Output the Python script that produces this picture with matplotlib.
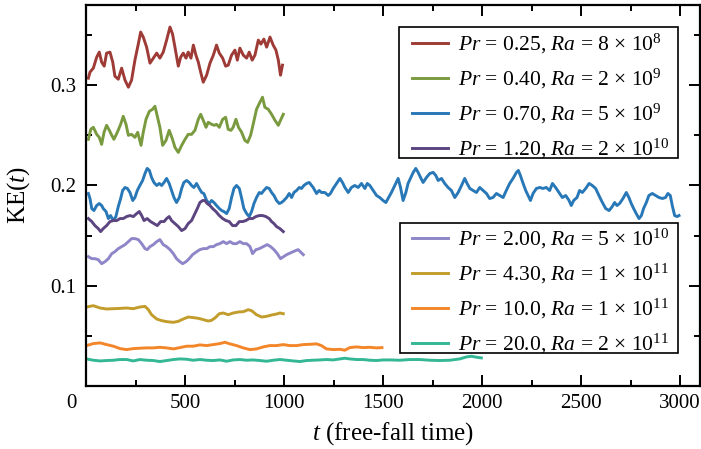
import matplotlib
matplotlib.use("Agg")
import matplotlib.pyplot as plt
from matplotlib.ticker import MultipleLocator
from matplotlib.transforms import ScaledTranslation
from matplotlib.patches import Rectangle

plt.rcParams['font.family'] = ['Liberation Serif', 'DejaVu Serif']
plt.rcParams['mathtext.fontset'] = 'custom'
plt.rcParams['mathtext.rm'] = 'Liberation Serif'
plt.rcParams['mathtext.it'] = 'Liberation Serif:italic'
plt.rcParams['mathtext.bf'] = 'Liberation Serif:bold'

labels = [r'$Pr$ = 0.25, $Ra$ = 8 × $10^{8}$',
          r'$Pr$ = 0.40, $Ra$ = 2 × $10^{9}$',
          r'$Pr$ = 0.70, $Ra$ = 5 × $10^{9}$',
          r'$Pr$ = 1.20, $Ra$ = 2 × $10^{10}$',
          r'$Pr$ = 2.00, $Ra$ = 5 × $10^{10}$',
          r'$Pr$ = 4.30, $Ra$ = 1 × $10^{11}$',
          r'$Pr$ = 10.0, $Ra$ = 1 × $10^{11}$',
          r'$Pr$ = 20.0, $Ra$ = 2 × $10^{11}$']
colors = ['#9e3b36', '#7a9a3f', '#2878b8', '#5c4580',
          '#8e86c8', '#c29d2b', '#f4862a', '#33b795']

t_pr025 = [12, 20, 37, 54, 67, 79, 92, 104, 121, 135, 146, 163, 180, 197, 214, 230, 247, 264, 276, 289,
           306, 323, 340, 357, 373, 390, 407, 424, 437, 449, 466, 478, 491, 505, 516, 530, 542, 555, 567, 579,
           592, 609, 626, 643, 659, 673, 690, 705, 718, 735, 752, 764, 777, 794, 811, 824, 839, 853, 870, 883,
           898, 912, 929, 945, 959, 971, 982, 992]
ke_pr025 = [0.307, 0.313, 0.317, 0.328, 0.333, 0.323, 0.319, 0.332, 0.333, 0.323,
            0.309, 0.306, 0.317, 0.305, 0.298, 0.305, 0.325, 0.341, 0.353, 0.348,
            0.338, 0.322, 0.327, 0.332, 0.327, 0.333, 0.345, 0.358, 0.351, 0.338,
            0.319, 0.328, 0.332, 0.327, 0.333, 0.327, 0.340, 0.330, 0.323, 0.313,
            0.303, 0.310, 0.322, 0.330, 0.340, 0.332, 0.327, 0.319, 0.320, 0.330,
            0.335, 0.325, 0.337, 0.330, 0.327, 0.333, 0.325, 0.330, 0.345, 0.341,
            0.346, 0.338, 0.348, 0.340, 0.335, 0.325, 0.310, 0.320]

t_pr040 = [12, 24, 37, 54, 67, 79, 91, 104, 118, 130, 141, 158, 175, 188, 202, 214, 230, 247, 261, 278,
           289, 303, 320, 336, 348, 360, 373, 387, 404, 420, 437, 449, 466, 483, 500, 516, 533, 550, 567, 579,
           592, 606, 617, 634, 648, 659, 673, 690, 705, 718, 732, 743, 757, 770, 786, 802, 816, 831, 844, 861,
           878, 891, 903, 920, 937, 954, 971, 982, 996]
ke_pr040 = [0.246, 0.256, 0.258, 0.251, 0.248, 0.241, 0.253, 0.260, 0.255, 0.250,
            0.246, 0.253, 0.261, 0.269, 0.261, 0.250, 0.251, 0.248, 0.253, 0.240,
            0.253, 0.266, 0.274, 0.276, 0.279, 0.269, 0.258, 0.240, 0.245, 0.255,
            0.246, 0.238, 0.233, 0.240, 0.246, 0.251, 0.251, 0.255, 0.266, 0.271,
            0.265, 0.258, 0.263, 0.261, 0.260, 0.261, 0.258, 0.266, 0.268, 0.256,
            0.255, 0.258, 0.266, 0.258, 0.253, 0.245, 0.243, 0.250, 0.261, 0.276,
            0.283, 0.288, 0.278, 0.276, 0.271, 0.265, 0.260, 0.265, 0.271]

t_pr070 = [12, 20, 29, 40, 54, 67, 79, 87, 101, 113, 124, 138, 151, 163, 175, 185, 197, 209, 222, 236,
           247, 259, 272, 286, 298, 309, 320, 331, 343, 357, 370, 382, 394, 407, 420, 432, 444, 457, 471, 483,
           494, 508, 521, 533, 545, 558, 572, 584, 595, 609, 622, 634, 646, 659, 673, 685, 696, 710, 723, 735,
           747, 760, 774, 786, 797, 811, 824, 836, 848, 861, 875, 886, 898, 912, 925, 937, 949, 962, 976, 987,
           999, 1013, 1026, 1038, 1050, 1063, 1077, 1088, 1100, 1114, 1127,
           1147, 1164, 1177, 1189, 1206, 1223, 1234, 1248, 1265, 1282, 1295, 1307, 1324, 1340, 1357, 1374, 1391,
           1408, 1420, 1433, 1450, 1467, 1483, 1500, 1514, 1525, 1542, 1559, 1576, 1588, 1601, 1615, 1626, 1640,
           1652, 1665, 1677, 1689, 1702, 1719, 1736, 1753, 1766, 1778, 1795, 1811, 1828, 1845, 1862, 1879, 1896,
           1912, 1924, 1938, 1954, 1971, 1988, 2005, 2022, 2038, 2055, 2072,
           2089, 2106, 2122, 2139, 2156, 2173, 2183, 2193, 2207, 2220, 2232, 2244, 2257, 2274, 2291, 2307, 2324,
           2341, 2355, 2371, 2388, 2405, 2422, 2439, 2450, 2462, 2479, 2492, 2506, 2523, 2540, 2556, 2573, 2585,
           2597, 2610, 2624, 2641, 2657, 2669, 2681, 2694, 2711, 2728, 2741, 2753, 2765, 2778, 2792, 2804, 2815,
           2829, 2842, 2859, 2876, 2893, 2910, 2926, 2938, 2950, 2960, 2972, 2984, 2994]
ke_pr070 = [0.192, 0.187, 0.177, 0.175, 0.180, 0.182, 0.180, 0.177, 0.174, 0.167,
            0.170, 0.165, 0.169, 0.179, 0.187, 0.195, 0.198, 0.197, 0.193, 0.185,
            0.188, 0.195, 0.200, 0.205, 0.212, 0.217, 0.215, 0.208, 0.203, 0.200,
            0.202, 0.200, 0.203, 0.207, 0.202, 0.195, 0.188, 0.183, 0.188, 0.197,
            0.203, 0.205, 0.203, 0.200, 0.198, 0.202, 0.197, 0.193, 0.192, 0.185,
            0.182, 0.185, 0.183, 0.180, 0.177, 0.175, 0.174, 0.172, 0.177, 0.188,
            0.197, 0.200, 0.197, 0.187, 0.177, 0.172, 0.169, 0.174, 0.182, 0.188,
            0.193, 0.192, 0.195, 0.198, 0.197, 0.193, 0.190, 0.185, 0.182, 0.183,
            0.185, 0.188, 0.192, 0.188, 0.193, 0.195, 0.198, 0.197, 0.200, 0.202,
            0.203,
            0.198, 0.192, 0.195, 0.193, 0.193, 0.190, 0.192, 0.197, 0.202,
            0.207, 0.203, 0.198, 0.193, 0.198, 0.200, 0.198, 0.202, 0.197, 0.202,
            0.200, 0.195, 0.190, 0.188, 0.185, 0.183, 0.187, 0.193, 0.200, 0.207,
            0.198, 0.185, 0.193, 0.202, 0.208, 0.213, 0.217, 0.213, 0.208, 0.203,
            0.208, 0.212, 0.213, 0.210, 0.205, 0.207, 0.202, 0.198, 0.195, 0.188,
            0.193, 0.200, 0.207, 0.202, 0.197, 0.195, 0.193, 0.198, 0.195, 0.192,
            0.187, 0.188, 0.192,
            0.190, 0.188, 0.195, 0.202, 0.207, 0.213, 0.215, 0.210, 0.202, 0.195,
            0.190, 0.185, 0.192, 0.197, 0.198, 0.197, 0.198, 0.195, 0.202, 0.198,
            0.193, 0.188, 0.190, 0.185, 0.180, 0.185, 0.188, 0.195, 0.193, 0.197,
            0.202, 0.200, 0.197, 0.192, 0.187, 0.182, 0.177, 0.175, 0.179, 0.183,
            0.180, 0.182, 0.187, 0.193, 0.188, 0.182, 0.177, 0.172, 0.167, 0.170,
            0.177, 0.183, 0.190, 0.192, 0.190, 0.188, 0.187, 0.188, 0.192, 0.190,
            0.180, 0.170, 0.169, 0.170]

t_pr120 = [12, 29, 45, 62, 74, 87, 104, 121, 138, 155, 172, 188, 205, 222, 239, 256, 269, 281, 293, 309,
           326, 343, 360, 377, 394, 407, 420, 432, 449, 466, 483, 500, 516, 533, 550, 562, 575, 589, 600, 612,
           626, 639, 656, 673, 690, 707, 723, 740, 757, 774, 791, 807, 824, 841, 858, 875, 892, 908, 925, 937,
           949, 962, 979, 996]
ke_pr120 = [0.167, 0.164, 0.160, 0.157, 0.154, 0.157, 0.160, 0.164, 0.165, 0.165,
            0.167, 0.167, 0.169, 0.170, 0.169, 0.172, 0.174, 0.170, 0.165, 0.167,
            0.164, 0.162, 0.160, 0.164, 0.164, 0.167, 0.169, 0.165, 0.162, 0.159,
            0.155, 0.157, 0.162, 0.165, 0.172, 0.177, 0.183, 0.185, 0.185, 0.182,
            0.180, 0.177, 0.174, 0.170, 0.167, 0.165, 0.164, 0.160, 0.160, 0.164,
            0.164, 0.165, 0.167, 0.167, 0.169, 0.170, 0.170, 0.169, 0.167, 0.164,
            0.162, 0.159, 0.157, 0.154]

t_pr200 = [12, 29, 45, 62, 79, 96, 113, 130, 146, 163, 180, 197, 214, 230, 247, 264, 281, 298, 309, 323,
           340, 357, 373, 390, 407, 424, 441, 457, 474, 488, 505, 521, 538, 559, 575, 592, 609, 626, 643, 659,
           676, 693, 710, 727, 743, 760, 777, 794, 811, 828, 841, 858, 875, 895, 915, 932, 949, 966, 982, 1013,
           1046, 1071, 1097]
ke_pr200 = [0.129, 0.127, 0.127, 0.126, 0.122, 0.124, 0.127, 0.132, 0.134, 0.137,
            0.139, 0.141, 0.144, 0.147, 0.147, 0.146, 0.142, 0.137, 0.136, 0.139,
            0.141, 0.144, 0.146, 0.141, 0.139, 0.136, 0.132, 0.127, 0.124, 0.122,
            0.124, 0.127, 0.131, 0.134, 0.136, 0.137, 0.137, 0.139, 0.139, 0.141,
            0.142, 0.144, 0.142, 0.144, 0.142, 0.142, 0.144, 0.142, 0.142, 0.139,
            0.132, 0.136, 0.137, 0.139, 0.141, 0.139, 0.136, 0.132, 0.127, 0.131,
            0.134, 0.136, 0.131]

t_pr430 = [3, 37, 71, 104, 138, 172, 205, 239, 272, 298, 315, 331, 357, 382, 407, 441, 466, 491, 516, 542,
           567, 592, 617, 634, 651, 673, 693, 718, 743, 769, 794, 819, 836, 861, 887, 912, 937, 962, 979, 996]
ke_pr430 = [0.0788, 0.0801, 0.0778, 0.0768, 0.0771, 0.0774, 0.0778, 0.0771, 0.0788, 0.0794,
            0.0761, 0.0711, 0.0668, 0.0652, 0.0642, 0.0635, 0.0645, 0.0668, 0.0688, 0.0682,
            0.0675, 0.0662, 0.0648, 0.0655, 0.0678, 0.0721, 0.0728, 0.0711, 0.0728, 0.0738,
            0.0741, 0.0761, 0.0751, 0.0711, 0.0688, 0.0695, 0.0708, 0.0718, 0.0728, 0.0721]

t_pr10 = [3, 37, 71, 104, 138, 172, 205, 239, 272, 306, 340, 373, 407, 441, 474, 508, 541, 575, 609, 642,
          676, 701, 727, 760, 794, 828, 861, 895, 928, 962, 996, 1029, 1063, 1097, 1130, 1164, 1189, 1214,
          1248, 1282, 1307, 1332, 1366, 1399, 1433, 1467, 1494]
ke_pr10 = [0.0403, 0.0423, 0.0430, 0.0413, 0.0397, 0.0373, 0.0363, 0.0373, 0.0377, 0.0380,
           0.0380, 0.0386, 0.0380, 0.0370, 0.0383, 0.0397, 0.0397, 0.0410, 0.0403, 0.0413,
           0.0423, 0.0436, 0.0420, 0.0403, 0.0380, 0.0363, 0.0370, 0.0390, 0.0403, 0.0403,
           0.0413, 0.0403, 0.0403, 0.0413, 0.0416, 0.0420, 0.0403, 0.0370, 0.0363, 0.0366,
           0.0357, 0.0383, 0.0390, 0.0383, 0.0386, 0.0380, 0.0383]

t_pr20 = [3, 37, 71, 104, 138, 172, 205, 239, 272, 306, 340, 373, 407, 441, 474, 508, 541, 575, 609, 642,
          676, 710, 743, 777, 811, 844, 878, 912, 945, 979, 1013, 1046, 1080, 1114, 1147, 1181, 1215, 1248,
          1282, 1307, 1332, 1366, 1399, 1433, 1467, 1500, 1534, 1584, 1635, 1685, 1736, 1786, 1837, 1887,
          1921, 1946, 1971, 1996]
ke_pr20 = [0.0270, 0.0257, 0.0250, 0.0254, 0.0257, 0.0264, 0.0264, 0.0250, 0.0264, 0.0257,
           0.0254, 0.0244, 0.0254, 0.0264, 0.0270, 0.0267, 0.0257, 0.0264, 0.0257, 0.0254,
           0.0260, 0.0247, 0.0260, 0.0264, 0.0257, 0.0260, 0.0254, 0.0247, 0.0257, 0.0264,
           0.0257, 0.0250, 0.0244, 0.0254, 0.0257, 0.0260, 0.0264, 0.0260, 0.0270,
           0.0277, 0.0270, 0.0264, 0.0264, 0.0257, 0.0254, 0.0260, 0.0260,
           0.0257, 0.0264, 0.0264, 0.0257, 0.0254, 0.0257, 0.0270, 0.0290, 0.0297, 0.0287, 0.0280]

series_t = [t_pr025, t_pr040, t_pr070, t_pr120, t_pr200, t_pr430, t_pr10, t_pr20]
series_ke = [ke_pr025, ke_pr040, ke_pr070, ke_pr120, ke_pr200, ke_pr430, ke_pr10, ke_pr20]

fig = plt.figure(figsize=(7.01, 4.49), dpi=100)
ax = fig.add_axes([86 / 701, 1 - 386 / 449, 614 / 701, 381 / 449])

lines = []
for t, ke, c, lab in zip(series_t, series_ke, colors, labels):
    ln, = ax.plot(t, ke, color=c, lw=2.1, label=lab, solid_joinstyle='round')
    lines.append(ln)

ax.set_xlim(0, 3100)
ax.set_ylim(0, 0.38)
ax.xaxis.set_major_locator(MultipleLocator(500))
ax.xaxis.set_minor_locator(MultipleLocator(250))
ax.yaxis.set_major_locator(MultipleLocator(0.1))
ax.yaxis.set_minor_locator(MultipleLocator(0.05))
ax.tick_params(which='both', direction='in', top=True, right=True, width=1.4, labelsize=15)
ax.tick_params(which='major', length=8)
ax.tick_params(which='minor', length=4.5)
ax.tick_params(axis='x', pad=6)
ax.tick_params(axis='y', pad=7)
for s in ax.spines.values():
    s.set_linewidth(1.6)

ax.set_yticks([0.1, 0.2, 0.3])
ax.set_yticklabels(['0.1', '0.2', '0.3'])
ax.set_xticks([0, 500, 1000, 1500, 2000, 2500, 3000])
ax.set_xticklabels(['0', '500', '1000', '1500', '2000', '2500', '3000'])
first = ax.get_xticklabels()[0]
first.set_transform(first.get_transform() + ScaledTranslation(-15 / 100, 0, fig.dpi_scale_trans))

ax.set_xlabel(r'$t$ (free-fall time)', fontsize=18, labelpad=5)
ax.set_ylabel(r'KE($t$)', fontsize=18, labelpad=13)

# legend frames (drawn as boxes in axes coordinates)
for (x0, y0, x1, y1) in [(0.5103, 0.5997, 0.9637, 0.9410), (0.5114, 0.0858, 0.9637, 0.4286)]:
    ax.add_patch(Rectangle((x0, y0), x1 - x0, y1 - y0, transform=ax.transAxes,
                           facecolor='white', edgecolor='black', lw=1.2, zorder=4, clip_on=False))

legkw = dict(loc='upper left', fontsize=15.5, frameon=False, borderaxespad=0, borderpad=0,
             handlelength=1.7, handletextpad=0.45, labelspacing=0.5)
leg1 = ax.legend(lines[:4], labels[:4], bbox_to_anchor=(0.5305, 0.9290), **legkw)
leg1.set_zorder(6)
ax.add_artist(leg1)
leg2 = ax.legend(lines[4:], labels[4:], bbox_to_anchor=(0.5305, 0.4172), **legkw)
leg2.set_zorder(6)

fig.savefig('out.png', dpi=100)
